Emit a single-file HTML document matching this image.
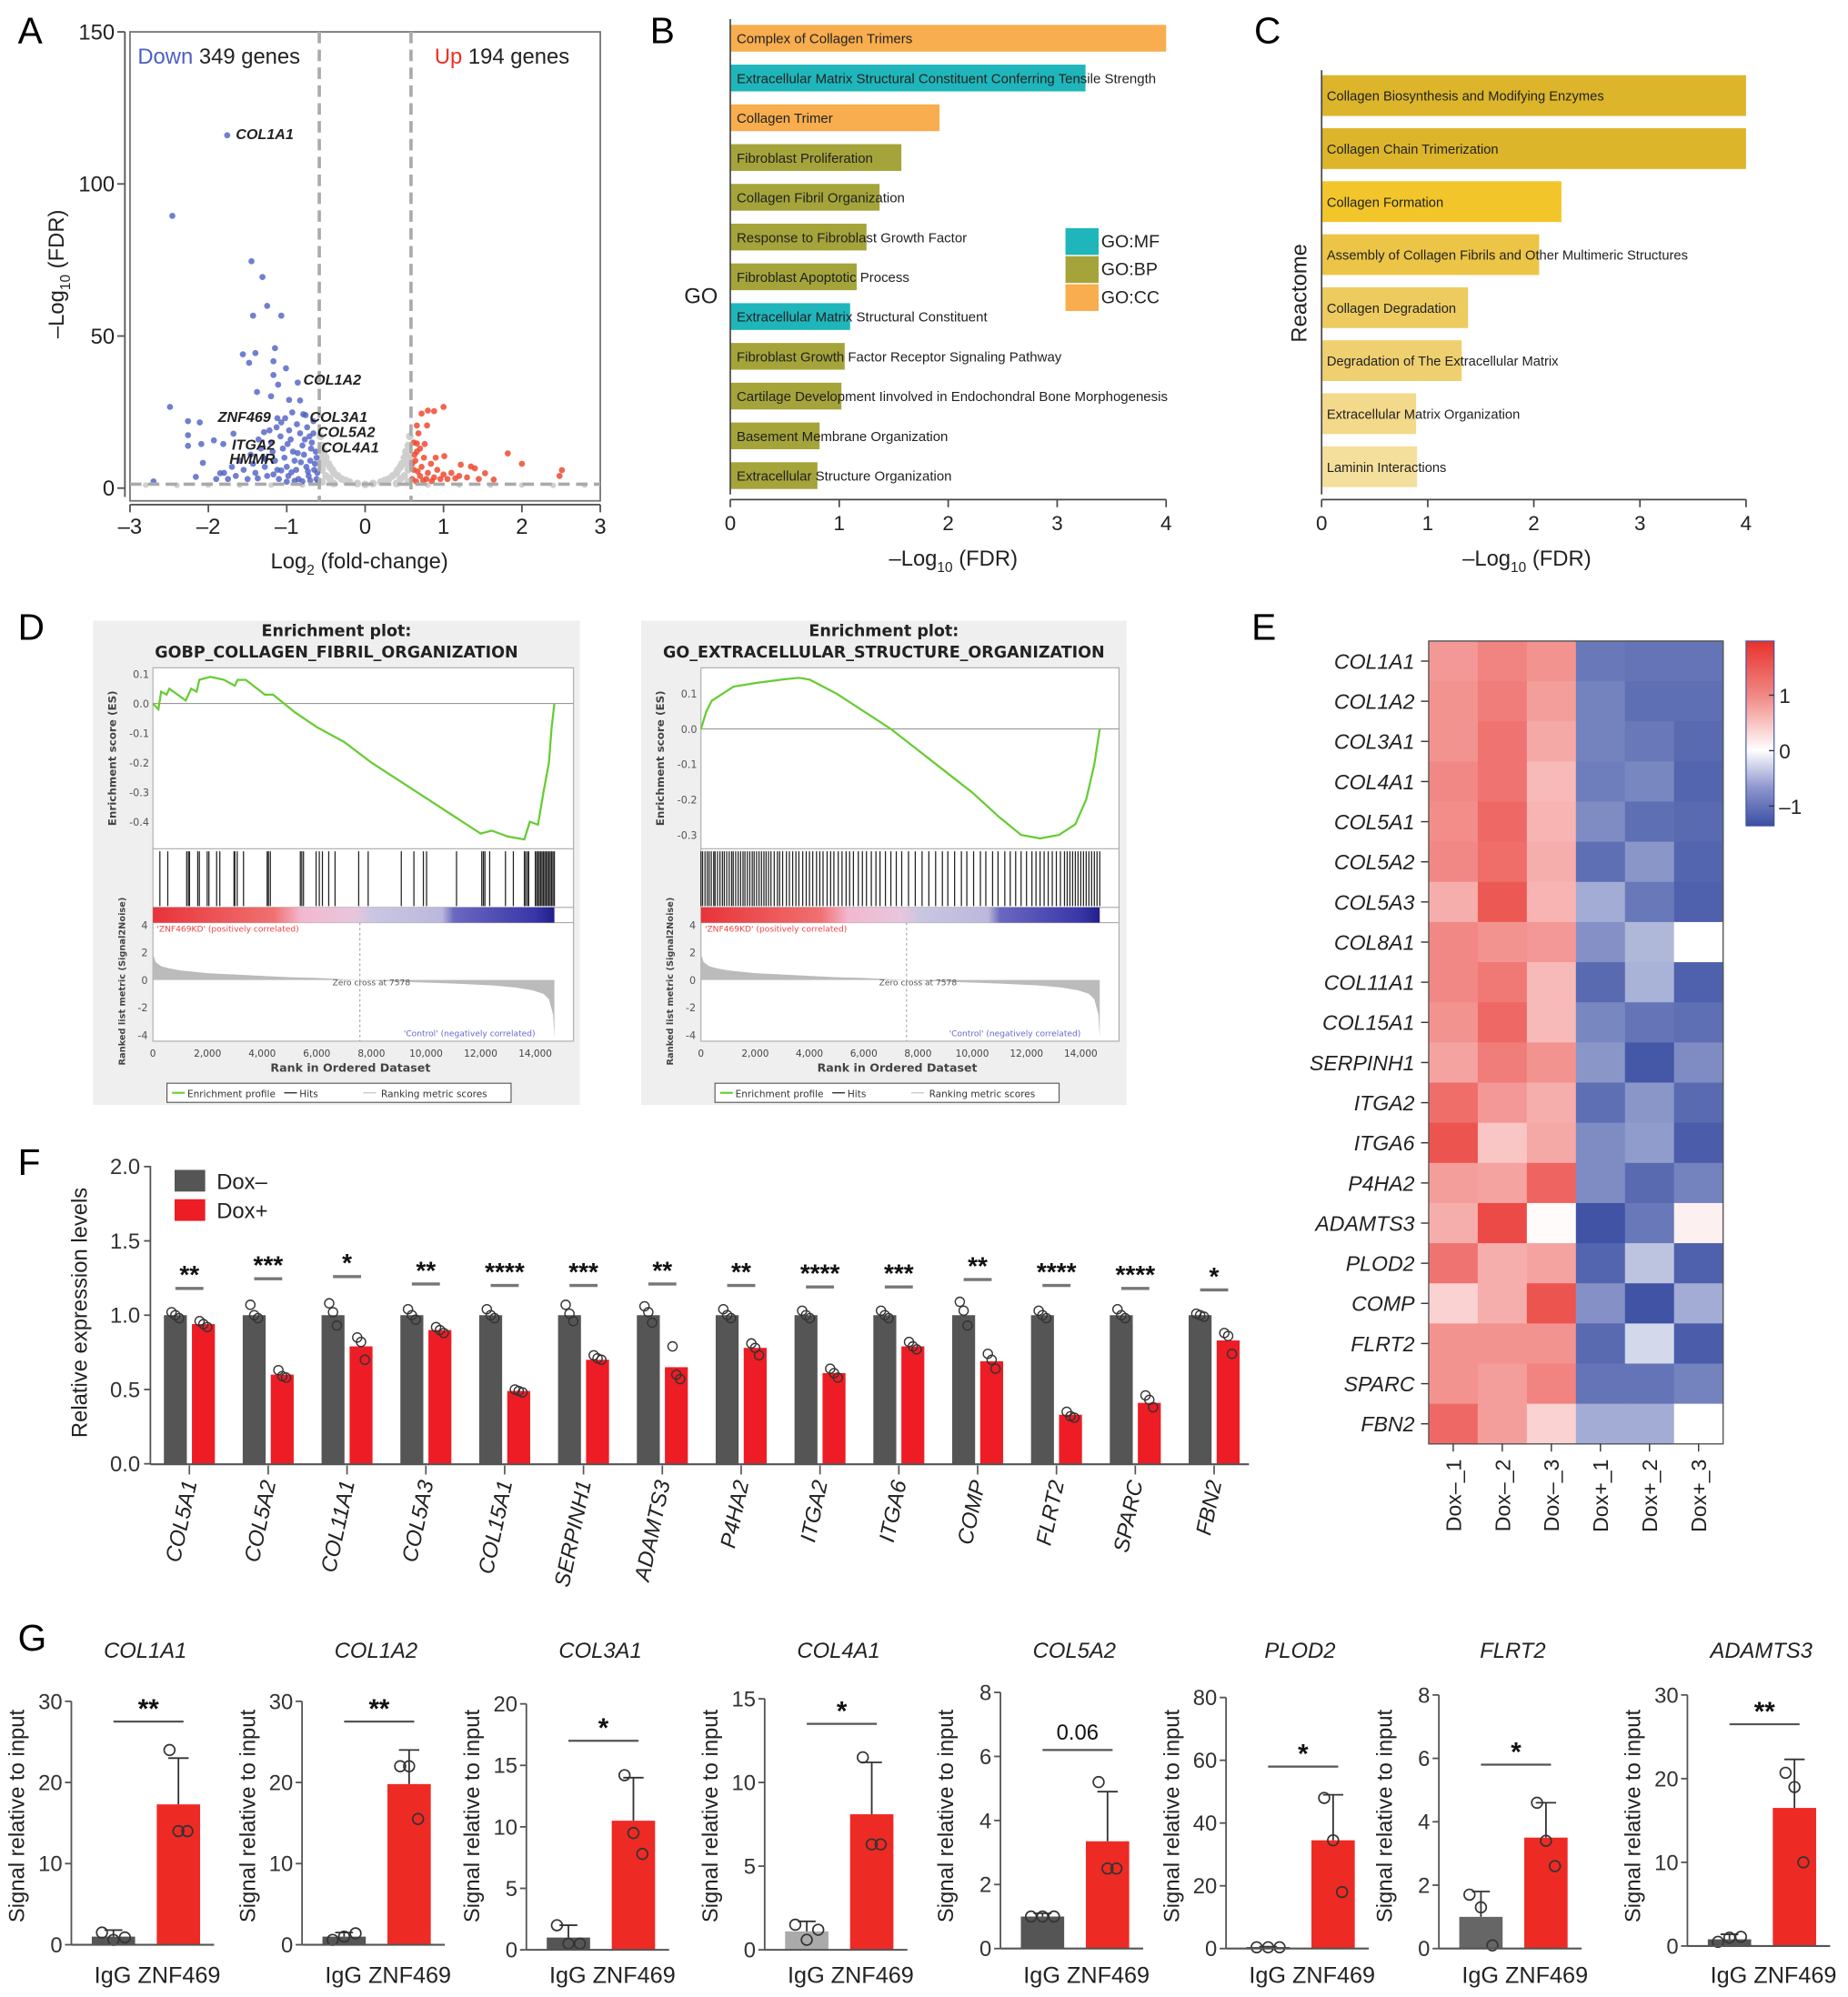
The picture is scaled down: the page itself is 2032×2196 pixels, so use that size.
<!DOCTYPE html>
<html><head><meta charset="utf-8"><style>
html,body{margin:0;padding:0;background:#fff}
svg{display:block;font-family:"Liberation Sans",Arial,sans-serif}
.gs{font-family:"DejaVu Sans","Liberation Sans",sans-serif}
</style></head><body>
<svg id="fig" xmlns="http://www.w3.org/2000/svg" width="2032" height="2196" viewBox="0 0 1450 1567">
<defs>
<linearGradient id="gseaBar" x1="0" x2="1" y1="0" y2="0">
<stop offset="0" stop-color="#e8333a"/><stop offset="0.3" stop-color="#f07070"/><stop offset="0.37" stop-color="#f2b8d0"/><stop offset="0.5" stop-color="#e8c6dc"/><stop offset="0.55" stop-color="#c9c6e2"/><stop offset="0.72" stop-color="#bcb8dd"/><stop offset="0.75" stop-color="#6a68c0"/><stop offset="0.95" stop-color="#3a36a8"/><stop offset="1" stop-color="#221f8a"/>
</linearGradient>
<linearGradient id="cbar" x1="0" x2="0" y1="0" y2="1">
<stop offset="0" stop-color="#e8312c"/><stop offset="0.3" stop-color="#f08a86"/><stop offset="0.59" stop-color="#ffffff"/><stop offset="0.8" stop-color="#8a93cc"/><stop offset="1" stop-color="#3b4fa3"/>
</linearGradient>
</defs>
<g font-size="29" fill="#000">
<text x="14" y="34">A</text>
<text x="510" y="34">B</text>
<text x="984" y="34">C</text>
<text x="14" y="502">D</text>
<text x="982" y="502">E</text>
<text x="14" y="922">F</text>
<text x="14" y="1295">G</text>
</g>
<g id="A"></g>
<g id="B"></g>
<g id="C"></g>
<g id="D" class="gs"></g>
<g id="E"></g>
<g id="F"></g>
<g id="G"></g>
</svg>
<script>
// ---------- DATA ----------
const volBlueOut=[[-1.76,116],[-2.46,89.5],[-1.45,74.6],[-1.31,69.4],[-1.25,59.9],[-1.43,56.7],[-1.07,56.7],[-1.15,46],[-1.56,44],[-1.40,44.4],[-1.48,41.2],[-1.17,41.7],[-1.01,39.4],[-1.17,37.2],[-1.11,34],[-0.86,34.7],[-1.38,31.6],[-1.2,30.2],[-0.97,29],[-0.83,28.8],[-2.49,26.7],[-0.93,24.9],[-0.79,24.3],[-2.26,22],[-2.11,21.6],[-1.07,21.6],[-1.12,23],[-2.26,17.4],[-1.68,17.9],[-1.29,18.4],[-1.93,15.7],[-2.26,13.9],[-2.09,14.5],[-1.81,14.5],[-2.07,8.3],[-1.85,4.9],[-2.16,3.7],[-2.70,2.2]];
const volBlue=[[-0.62,3],[-0.65,6],[-0.7,9],[-0.63,12],[-0.68,15],[-0.72,4],[-0.75,7],[-0.78,11],[-0.8,14],[-0.66,18],[-0.74,20],[-0.85,3],[-0.88,6],[-0.9,9],[-0.92,12],[-0.95,16],[-0.83,18],[-0.98,4],[-1.0,7],[-1.03,10],[-1.05,13],[-1.08,17],[-1.1,3],[-1.12,6],[-1.15,9],[-1.18,12],[-1.2,15],[-1.22,19],[-1.25,4],[-1.28,7],[-1.3,10],[-1.33,13],[-1.36,16],[-1.4,5],[-1.43,8],[-1.46,11],[-1.5,3],[-1.55,6],[-1.6,9],[-1.65,4],[-1.7,7],[-1.75,3],[-1.8,5],[-1.9,3],[-0.6,2],[-0.7,2.5],[-0.8,2.2],[-0.9,2.4],[-1.0,2.1],[-0.64,8],[-0.69,13],[-0.77,16],[-0.87,21],[-0.97,19],[-1.02,23],[-0.61,5],[-0.73,5.5],[-0.82,8.5],[-0.94,5.2],[-1.07,5.8],[-1.17,4.5],[-1.27,9.5],[-1.37,3.2],[-0.62,10],[-0.71,17],[-0.86,11.5],[-0.99,14.5],[-1.13,20],[-0.76,24],[-0.66,22]];
const volRed=[[1.0,26.7],[0.72,24.5],[0.8,25.5],[0.88,25.3],[0.66,20.6],[0.79,20.6],[0.66,14.7],[0.76,14.5],[1.01,10.5],[1.82,11.4],[2.0,8.0],[2.51,5.9],[2.48,4.0],[1.22,7.7],[1.35,7.1],[1.40,6.5],[1.53,4.9],[1.64,2.8],[0.6,3],[0.62,6],[0.64,9],[0.66,12],[0.62,15],[0.7,4],[0.72,7],[0.75,10],[0.78,3],[0.8,5],[0.84,8],[0.88,3.5],[0.92,6],[0.96,3],[1.0,4.5],[1.05,3],[1.1,5],[1.15,3.2],[1.2,4],[0.68,18],[0.65,2.2],[0.74,2.5],[0.85,2.3],[0.7,13],[0.9,10],[1.3,3.5],[1.45,3],[0.6,8],[0.63,11],[0.67,5.5]];
const volGrey=[[-0.57,17],[-0.55,14],[-0.52,12],[-0.5,10],[-0.47,8],[-0.45,7],[-0.42,6],[-0.4,5],[-0.35,4],[-0.3,3],[-0.25,2.5],[-0.2,2],[-0.1,1.5],[0,1.2],[0.1,1.5],[0.2,2],[0.25,2.5],[0.3,3],[0.35,4],[0.4,5],[0.42,6],[0.45,7],[0.47,8],[0.5,10],[0.52,12],[0.55,14],[0.57,17],[-0.55,6],[-0.5,4],[-0.45,3],[0.45,3],[0.5,4],[0.55,6],[-0.55,2],[0.55,2],[-0.4,1.5],[0.4,1.5],[-0.53,8],[0.53,8],[-0.56,10],[0.56,10]];
const volGreyBase=[[-2.8,1],[-2.4,0.9],[-2.0,1],[-1.6,1],[-1.2,1],[-0.8,1],[0.8,1],[1.2,1],[1.6,1],[2.0,1],[2.4,0.9],[2.8,1]];
const goTerms=["Complex of Collagen Trimers","Extracellular Matrix Structural Constituent Conferring Tensile Strength","Collagen Trimer","Fibroblast Proliferation","Collagen Fibril Organization","Response to Fibroblast Growth Factor","Fibroblast Apoptotic Process","Extracellular Matrix Structural Constituent","Fibroblast Growth Factor Receptor Signaling Pathway","Cartilage Development Iinvolved in Endochondral Bone Morphogenesis","Basement Membrane Organization","Extracellular Structure Organization"];
const goValues=[4.0,3.26,1.92,1.57,1.37,1.25,1.16,1.10,1.05,1.02,0.82,0.80];
const goTypes=["CC","MF","CC","BP","BP","BP","BP","MF","BP","BP","BP","BP"];
const reTerms=["Collagen Biosynthesis and Modifying Enzymes","Collagen Chain Trimerization","Collagen Formation","Assembly of Collagen Fibrils and Other Multimeric Structures","Collagen Degradation","Degradation of The Extracellular Matrix","Extracellular Matrix Organization","Laminin Interactions"];
const reValues=[4.0,4.0,2.26,2.05,1.38,1.32,0.89,0.90];
const axisTicks04=[0,1,2,3,4];
const esRanks1=[0,200,300,500,600,1200,1400,1600,1700,2100,2600,3000,3100,3400,4100,4400,5200,6000,7000,8000,9000,10000,11000,12000,12400,13000,13600,13800,14100,14300,14500,14600,14700];
const esVals1=[0,-0.02,0.04,0.03,0.05,0.01,0.05,0.04,0.08,0.09,0.08,0.06,0.08,0.08,0.03,0.03,-0.03,-0.08,-0.13,-0.2,-0.26,-0.32,-0.38,-0.44,-0.43,-0.45,-0.46,-0.4,-0.41,-0.3,-0.2,-0.08,0];
const hits1=[254,543,1236,1300,1340,1640,1700,1987,2050,2333,2449,2969,3000,3085,3316,4183,4230,4299,5397,5450,5513,5975,6091,6206,6437,6668,7534,7881,9094,9556,9903,10019,11116,12040,12100,12156,12330,12908,13197,13600,13650,13716,13760,14000,14050,14100,14150,14200,14250,14300,14350,14400,14450,14500,14550,14600,14650,14700];
const esRanks2=[0,200,400,800,1200,2000,3000,3600,4000,5000,6000,7000,8000,9000,10000,11000,11800,12500,13200,13800,14200,14500,14700];
const esVals2=[0,0.05,0.08,0.1,0.12,0.13,0.14,0.145,0.14,0.1,0.05,0,-0.06,-0.12,-0.18,-0.25,-0.3,-0.31,-0.3,-0.27,-0.2,-0.1,0];
const hits2=[0,60,150,230,300,380,470,520,610,700,790,860,950,1040,1130,1190,1280,1370,1460,1550,1620,1710,1800,1890,1960,2050,2140,2230,2320,2400,2490,2580,2700,2820,2900,3010,3150,3260,3380,3500,3610,3750,3880,4000,4120,4260,4380,4500,4650,4780,4900,5060,5200,5350,5480,5620,5800,5950,6100,6280,6450,6600,6800,7000,7200,7400,7650,7900,8150,8400,8650,8900,9100,9350,9600,9800,10050,10300,10500,10750,10950,11200,11400,11600,11800,12000,12200,12350,12500,12650,12800,12950,13100,13250,13400,13500,13600,13700,13800,13900,14000,14100,14200,14300,14400,14500,14600,14700];
const metricRanks=[0,100,300,600,1000,2000,3000,4000,5000,6000,7000,7578,8500,9500,10500,11500,12500,13300,13900,14300,14500,14650,14700];
const metricVals=[1.9,1.3,1.0,0.85,0.7,0.5,0.4,0.3,0.2,0.15,0.05,0,-0.08,-0.15,-0.22,-0.3,-0.4,-0.55,-0.75,-1.0,-1.4,-2.5,-4.2];
const rankTicks=[0,2000,4000,6000,8000,10000,12000,14000];
const hmGenes=["COL1A1","COL1A2","COL3A1","COL4A1","COL5A1","COL5A2","COL5A3","COL8A1","COL11A1","COL15A1","SERPINH1","ITGA2","ITGA6","P4HA2","ADAMTS3","PLOD2","COMP","FLRT2","SPARC","FBN2"];
const hmSamples=["Dox\u2013_1","Dox\u2013_2","Dox\u2013_3","Dox+_1","Dox+_2","Dox+_3"];
const hmValues=[[0.8,1.0,0.85,-1.05,-1.1,-1.1],[0.85,1.05,0.75,-0.95,-1.15,-1.15],[0.85,1.15,0.65,-0.95,-1.05,-1.2],[0.95,1.15,0.5,-1.0,-0.9,-1.25],[0.9,1.25,0.55,-0.85,-1.15,-1.2],[0.95,1.2,0.6,-1.15,-0.75,-1.25],[0.6,1.4,0.55,-0.55,-1.05,-1.3],[0.95,0.85,0.8,-0.8,-0.45,0.0],[0.95,1.1,0.5,-1.2,-0.5,-1.3],[0.85,1.25,0.5,-0.9,-1.1,-1.15],[0.7,1.05,0.85,-0.75,-1.4,-0.85],[1.2,0.8,0.6,-1.15,-0.75,-1.2],[1.45,0.4,0.65,-0.85,-0.7,-1.35],[0.75,0.7,1.3,-0.85,-1.2,-0.95],[0.6,1.55,0.02,-1.45,-1.05,0.08],[1.15,0.6,0.7,-1.25,-0.35,-1.3],[0.3,0.6,1.45,-0.8,-1.45,-0.55],[0.85,0.85,0.85,-1.2,-0.2,-1.35],[0.85,0.75,1.0,-1.1,-1.1,-0.95],[1.25,0.75,0.3,-0.55,-0.55,0.0]];
const cbTicks=[1,0,-1];
const fGenes=["COL5A1","COL5A2","COL11A1","COL5A3","COL15A1","SERPINH1","ADAMTS3","P4HA2","ITGA2","ITGA6","COMP","FLRT2","SPARC","FBN2"];
const fDoxMinus=[1,1,1,1,1,1,1,1,1,1,1,1,1,1];
const fDoxPlus=[0.94,0.60,0.79,0.90,0.49,0.70,0.65,0.78,0.61,0.79,0.69,0.33,0.41,0.83];
const fPtsMinus=[[1.02,1.0,0.98],[1.07,1.0,0.98],[1.08,1.02,0.93],[1.04,1.0,0.97],[1.04,1.0,0.98],[1.07,1.01,0.96],[1.06,1.02,0.95],[1.04,1.0,0.98],[1.03,1.0,0.98],[1.03,1.0,0.98],[1.09,1.03,0.93],[1.03,1.0,0.98],[1.04,1.0,0.98],[1.01,1.0,0.99]];
const fPtsPlus=[[0.96,0.94,0.92],[0.63,0.59,0.58],[0.85,0.82,0.70],[0.92,0.90,0.88],[0.50,0.49,0.48],[0.73,0.71,0.70],[0.79,0.60,0.57],[0.81,0.78,0.73],[0.64,0.61,0.58],[0.82,0.79,0.77],[0.74,0.70,0.64],[0.35,0.32,0.31],[0.46,0.43,0.38],[0.88,0.86,0.74]];
const fSig=["**","***","*","**","****","***","**","**","****","***","**","****","****","*"];
const fSigY=[1.18,1.245,1.26,1.21,1.20,1.20,1.21,1.20,1.19,1.19,1.24,1.20,1.18,1.17];
const fTicks=[0,0.5,1.0,1.5,2.0];
const gGenes=["COL1A1","COL1A2","COL3A1","COL4A1","COL5A2","PLOD2","FLRT2","ADAMTS3"];
const gMax=[30,30,20,15,8,80,8,30];
const gStep=[10,10,5,5,2,20,2,10];
const gIgG=[1.0,1.0,1.0,1.1,1.0,0.5,1.0,0.8];
const gZnf=[17.3,19.8,10.5,8.1,3.35,34.5,3.5,16.5];
const gIgGErr=[1.8,1.5,2.0,1.7,1.1,0.6,1.8,1.4];
const gZnfErr=[23,24,14,11.2,4.9,49,4.6,22.3];
const gIgGPts=[[1.5,0.6,0.9],[0.6,1.0,1.4],[2.0,0.5,0.5],[1.5,0.6,1.2],[1,1,1],[0.4,0.4,0.4],[1.7,1.3,0.1],[0.5,1.0,1.1]];
const gZnfPts=[[24,14,14],[22,22,15.5],[14.2,9.5,7.8],[11.5,6.3,6.3],[5.2,2.5,2.5],[48,34.5,18],[4.6,3.4,2.6],[20.7,19,10]];
const gSig=["**","**","*","*","0.06","*","*","**"];
const gSigVal=[27.5,27.5,17,13.5,6.2,58,5.8,26.5];

// ---------- HELPERS ----------
const NS="http://www.w3.org/2000/svg";
function el(tag,attrs,parent,text){const e=document.createElementNS(NS,tag);for(const k in attrs)e.setAttribute(k,attrs[k]);if(text!==undefined)e.textContent=text;parent.appendChild(e);return e;}
function ln(p,x1,y1,x2,y2,st,w,extra){const a={x1:x1,y1:y1,x2:x2,y2:y2,stroke:st,'stroke-width':w};if(extra)Object.assign(a,extra);return el('line',a,p);}

// ---------- A: VOLCANO ----------
(function(){
const g=document.getElementById('A');
const xA=v=>102+(v+3)/6*369, yA=v=>383-v/150*358;
const fr=el('rect',{x:102,y:25,width:369,height:368,fill:'none',stroke:'#777','stroke-width':1.3},g);

volGrey.forEach(p=>{const c=el('circle',{cx:xA(p[0]),cy:yA(p[1]),r:3,fill:'#cfcfcf'},g);
});
volGreyBase.forEach(p=>{const c=el('circle',{cx:xA(p[0]),cy:yA(p[1]),r:2.2,fill:'#d0d0d0'},g);
});
volBlue.concat(volBlueOut).forEach(p=>{const c=el('circle',{cx:xA(p[0]),cy:yA(p[1]),r:2.4,fill:'#4d5fc4','fill-opacity':0.8},g);
});
volRed.forEach(p=>{const c=el('circle',{cx:xA(p[0]),cy:yA(p[1]),r:2.4,fill:'#ee4a30','fill-opacity':0.85},g);
});
const d1=ln(g,xA(-0.585),25,xA(-0.585),393,'#aaa',2.6,{'stroke-dasharray':'9,5'});

const d2=ln(g,xA(0.585),25,xA(0.585),393,'#aaa',2.6,{'stroke-dasharray':'9,5'});

const d3=ln(g,102,yA(1.3),471,yA(1.3),'#aaa',2.6,{'stroke-dasharray':'9,5'});

const labs=[["COL1A1",185,109],["COL1A2",238,302],["ZNF469",171,331],["COL3A1",243,331],["COL5A2",249,343],["COL4A1",252,355],["ITGA2",182,353],["HMMR",180,364]];
labs.forEach(l=>{const t=el('text',{x:l[1],y:l[2],'font-size':11.5,'font-weight':'bold','font-style':'italic',fill:'#222'},g,l[0]);
});
const xa=ln(g,102,396,471,396,'#555',1.3);
[-3,-2,-1,0,1,2,3].forEach(v=>{const tk=ln(g,xA(v),396,xA(v),402,'#555',1.3);
const t=el('text',{x:xA(v),y:419,'font-size':17,'text-anchor':'middle',fill:'#222'},g,v<0?'\u2013'+(-v):''+v);});
const ya=ln(g,98,25,98,390,'#555',1.3);
[0,50,100,150].forEach(v=>{const tk=ln(g,92,yA(v),98,yA(v),'#555',1.3);
const t=el('text',{x:90,y:yA(v)+6,'font-size':17,'text-anchor':'end',fill:'#222'},g,''+v);});
const xt=el('text',{x:282,y:446,'font-size':17,'text-anchor':'middle',fill:'#222'},g);
xt.innerHTML='Log<tspan font-size="11" dy="5">2</tspan><tspan dy="-5"> (fold-change)</tspan>';
const yt=el('text',{transform:'translate(50,215) rotate(-90)','font-size':17,'text-anchor':'middle',fill:'#222'},g);
yt.innerHTML='\u2013Log<tspan font-size="11" dy="5">10</tspan><tspan dy="-5"> (FDR)</tspan>';
const dn=el('text',{x:108,y:50,'font-size':17,fill:'#222'},g);
dn.innerHTML='<tspan fill="#4d5fc4">Down</tspan> 349 genes';
const up=el('text',{x:341,y:50,'font-size':17,fill:'#222'},g);
up.innerHTML='<tspan fill="#ee3024">Up</tspan> 194 genes';
})();

// ---------- B: GO ----------
(function(){
const g=document.getElementById('B');
const xB=v=>573+v/4*342; const col={CC:'#f8ad4e',MF:'#1fb6bb',BP:'#a5a43a'};
goTerms.forEach((t,i)=>{const cy=30+i*31.2;
const r=el('rect',{x:xB(0),y:cy-10.5,width:xB(goValues[i])-xB(0),height:21,fill:col[goTypes[i]]},g);

const tx=el('text',{x:578,y:cy+4,'font-size':10.7,fill:'#222'},g,t);});
const ya=ln(g,573,15,573,388,'#444',1.2);
const xa=ln(g,573,392,915,392,'#444',1.2);
axisTicks04.forEach(v=>{const tk=ln(g,xB(v),392,xB(v),398,'#444',1.2);
const t=el('text',{x:xB(v),y:416,'font-size':16,'text-anchor':'middle',fill:'#222'},g,''+v);});
const xt=el('text',{x:748,y:444,'font-size':17,'text-anchor':'middle',fill:'#222'},g);
xt.innerHTML='\u2013Log<tspan font-size="11" dy="5">10</tspan><tspan dy="-5"> (FDR)</tspan>';
const yt=el('text',{x:550,y:238,'font-size':17,'text-anchor':'middle',fill:'#222'},g,'GO');
[['GO:MF','MF'],['GO:BP','BP'],['GO:CC','CC']].forEach((l,i)=>{const s=el('rect',{x:836,y:179+i*22,width:26,height:21,fill:col[l[1]]},g);
const t=el('text',{x:864,y:194+i*22,'font-size':14,fill:'#222'},g,l[0]);});
})();

// ---------- C: REACTOME ----------
(function(){
const g=document.getElementById('C');
const xC=v=>1037+v/4*333; const cols=['#dcb52a','#dcb52a','#f2c62a','#ecc547','#edcb5e','#efd070','#f3d98a','#f5df9c'];
reTerms.forEach((t,i)=>{const cy=75+i*41.6;
const r=el('rect',{x:xC(0),y:cy-16,width:xC(reValues[i])-xC(0),height:32,fill:cols[i]},g);
const tx=el('text',{x:1041,y:cy+4,'font-size':10.5,fill:'#222'},g,t);});
const ya=ln(g,1037,55,1037,388,'#444',1.2);
const xa=ln(g,1037,392,1370,392,'#444',1.2);
axisTicks04.forEach(v=>{const tk=ln(g,xC(v),392,xC(v),398,'#444',1.2);
const t=el('text',{x:xC(v),y:416,'font-size':16,'text-anchor':'middle',fill:'#222'},g,''+v);});
const xt=el('text',{x:1198,y:444,'font-size':17,'text-anchor':'middle',fill:'#222'},g);
xt.innerHTML='\u2013Log<tspan font-size="11" dy="5">10</tspan><tspan dy="-5"> (FDR)</tspan>';
const yt=el('text',{transform:'translate(1025,230) rotate(-90)','font-size':17,'text-anchor':'middle',fill:'#222'},g,'Reactome');
})();

// ---------- D: GSEA ----------
function gsea(o){
const g=document.getElementById('D');
const xR=r=>o.fl+r/14000*(o.x14-o.fl); const yE=v=>o.e0-v*o.ep; const yM=v=>769-v*10.8;
const bg=el('rect',{x:o.bx,y:487,width:o.bw,height:380,fill:'#efefef'},g);
const fr=el('rect',{x:o.fl,y:524,width:o.fr-o.fl,height:293,fill:'#fff',stroke:'#aaa','stroke-width':0.8},g);
const t1=el('text',{x:o.bx+o.bw/2,y:499,'font-size':12.5,'font-weight':'bold','text-anchor':'middle',fill:'#222'},g,'Enrichment plot:');
const t2=el('text',{x:o.bx+o.bw/2,y:516,'font-size':12.5,'font-weight':'bold','text-anchor':'middle',fill:'#222'},g,o.title);
[666,712,724].forEach(y=>{const s=ln(g,o.fl,y,o.fr,y,'#aaa',0.8);});
const z=ln(g,o.fl,yE(0),o.fr,yE(0),'#999',0.8);
o.ticks.forEach(v=>{const t=el('text',{x:o.fl-3,y:yE(v)+3,'font-size':8,'text-anchor':'end',fill:'#555'},g,v.toFixed(1));});
const pts=o.er.map((r,i)=>xR(r)+','+yE(o.ev[i])).join(' ');
const pl=el('polyline',{points:pts,fill:'none',stroke:'#66cc33','stroke-width':1.6},g);
o.hits.forEach(r=>{const h=ln(g,xR(r),668,xR(r),711,'#222',0.9);});
const cb=el('rect',{x:o.fl,y:712,width:xR(14700)-o.fl,height:12,fill:'url(#gseaBar)'},g);
const mp='M'+xR(0)+','+yM(0)+' '+metricRanks.map((r,i)=>'L'+xR(r)+','+yM(metricVals[i])).join(' ')+' L'+xR(14700)+','+yM(0)+'Z';
const m=el('path',{d:mp,fill:'#bbb'},g);
const zc=ln(g,xR(7578),724,xR(7578),817,'#999',0.7,{'stroke-dasharray':'2,2'});
const zt=el('text',{x:xR(8000),y:773,'font-size':6.5,'text-anchor':'middle',fill:'#555'},g,'Zero cross at 7578');
const pc=el('text',{x:o.fl+3,y:731,'font-size':6.5,fill:'#e44'},g,"'ZNF469KD' (positively correlated)");
const nc=el('text',{x:xR(14000),y:813,'font-size':6.5,'text-anchor':'end',fill:'#66c'},g,"'Control' (negatively correlated)");
[4,2,0,-2,-4].forEach(v=>{const t=el('text',{x:o.fl-4,y:yM(v)+3,'font-size':8,'text-anchor':'end',fill:'#555'},g,''+v);});
rankTicks.forEach(r=>{const t=el('text',{x:xR(r),y:829,'font-size':7.5,'text-anchor':'middle',fill:'#444'},g,r.toLocaleString('en-US'));});
const xt=el('text',{x:(o.fl+o.fr)/2-10,y:841,'font-size':9,'font-weight':'bold','text-anchor':'middle',fill:'#444'},g,'Rank in Ordered Dataset');
const y1=el('text',{transform:'translate('+(o.fl-29)+',595) rotate(-90)','font-size':8.5,'font-weight':'bold','text-anchor':'middle',fill:'#444'},g,'Enrichment score (ES)');
const y2=el('text',{transform:'translate('+(o.fl-22)+',770) rotate(-90)','font-size':7,'font-weight':'bold','text-anchor':'middle',fill:'#444'},g,'Ranked list metric (Signal2Noise)');
const lb=el('rect',{x:o.fl+11,y:850,width:270,height:15,fill:'#fff',stroke:'#555','stroke-width':0.8},g);
const l1=ln(g,o.fl+15,857.5,o.fl+25,857.5,'#66cc33',1.5);
const a=el('text',{x:o.fl+27,y:861,'font-size':7.5,fill:'#333'},g,'Enrichment profile');
const l2=ln(g,o.fl+103,857.5,o.fl+113,857.5,'#333',1);
const b=el('text',{x:o.fl+115,y:861,'font-size':7.5,fill:'#333'},g,'Hits');
const l3=ln(g,o.fl+165,857.5,o.fl+175,857.5,'#ccc',1);
const c=el('text',{x:o.fl+179,y:861,'font-size':7.5,fill:'#333'},g,'Ranking metric scores');
}
gsea({bx:73,bw:382,fl:120,fr:450,x14:420,e0:552,ep:232,ticks:[0.1,0,-0.1,-0.2,-0.3,-0.4],er:esRanks1,ev:esVals1,hits:hits1,title:'GOBP_COLLAGEN_FIBRIL_ORGANIZATION'});
gsea({bx:503,bw:381,fl:550,fr:878,x14:848,e0:572,ep:277,ticks:[0.1,0,-0.1,-0.2,-0.3],er:esRanks2,ev:esVals2,hits:hits2,title:'GO_EXTRACELLULAR_STRUCTURE_ORGANIZATION'});

// ---------- E: HEATMAP ----------
(function(){
const g=document.getElementById('E');
const x0=1121,y0=503,cw=(1352-1121)/6,rh=(1133-503)/20;
function color(v){if(v>=0){const t=Math.pow(Math.min(v/1.8,1),0.85);return 'rgb('+Math.round(255-23*t)+','+Math.round(255-205*t)+','+Math.round(255-210*t)+')';}
const t=Math.pow(Math.min(-v/1.5,1),0.75);return 'rgb('+Math.round(255-196*t)+','+Math.round(255-176*t)+','+Math.round(255-92*t)+')';}
hmValues.forEach((row,i)=>{row.forEach((v,j)=>{const r=el('rect',{x:x0+j*cw,y:y0+i*rh,width:cw+0.5,height:rh+0.5,fill:color(v)},g);
});
const tk=ln(g,x0-6,y0+(i+0.5)*rh,x0,y0+(i+0.5)*rh,'#333',1);
const t=el('text',{x:x0-11,y:y0+(i+0.5)*rh+6,'font-size':16.5,'font-style':'italic','text-anchor':'end',fill:'#222'},g,hmGenes[i]);});
const fr=el('rect',{x:x0,y:y0,width:6*cw,height:20*rh,fill:'none',stroke:'#555','stroke-width':1},g);
hmSamples.forEach((s,j)=>{const cx=x0+(j+0.5)*cw;const tk=ln(g,cx,1133,cx,1139,'#333',1);
const t=el('text',{transform:'translate('+(cx+6)+',1145) rotate(-90)','font-size':16.5,'text-anchor':'end',fill:'#222'},g,s);});
const cb=el('rect',{x:1370,y:503,width:22,height:145,fill:'url(#cbar)',stroke:'#3b4fa3','stroke-width':0.8},g);
cbTicks.forEach(v=>{const y=589-v*43.5;const tk=ln(g,1388,y,1392,y,'#333',1);
const t=el('text',{x:1396,y:y+6,'font-size':16,fill:'#222'},g,v<0?'\u2013'+(-v):''+v);});
})();

// ---------- F: QPCR ----------
(function(){
const g=document.getElementById('F');
const yF=v=>1148.6-v*116.6; const xF=i=>148.6+i*61.85;
const ya=ln(g,118,915,118,1149,'#555',1.3);
fTicks.forEach(v=>{const tk=ln(g,113,yF(v),118,yF(v),'#555',1.3);
const t=el('text',{x:110,y:yF(v)+6,'font-size':17,'text-anchor':'end',fill:'#333'},g,v.toFixed(1));});
const yt=el('text',{transform:'translate(68,1030) rotate(-90)','font-size':17,'text-anchor':'middle',fill:'#222'},g,'Relative expression levels');
fGenes.forEach((gn,i)=>{const c=xF(i);
const b1=el('rect',{x:c-20,y:yF(fDoxMinus[i]),width:18,height:yF(0)-yF(fDoxMinus[i]),fill:'#555'},g);
const b2=el('rect',{x:c+2,y:yF(fDoxPlus[i]),width:18,height:yF(0)-yF(fDoxPlus[i]),fill:'#ee1c24'},g);
fPtsMinus[i].forEach((v,k)=>{const p=el('circle',{cx:c-11+(k-1)*3,cy:yF(v),r:3.6,fill:'none',stroke:'#333','stroke-width':1},g);});
fPtsPlus[i].forEach((v,k)=>{const p=el('circle',{cx:c+11+(k-1)*3,cy:yF(v),r:3.6,fill:'none',stroke:'#333','stroke-width':1},g);});
const sl=ln(g,c-11,yF(fSigY[i]),c+11,yF(fSigY[i]),'#777',2.4);
const st=el('text',{x:c,y:yF(fSigY[i])-4,'font-size':20,'font-weight':'bold','text-anchor':'middle',fill:'#111'},g,fSig[i]);
const tk=ln(g,c,1150,c,1157,'#555',1.2);
const tl=el('text',{transform:'translate('+(c+6)+',1163) rotate(-78)','font-size':17,'font-style':'italic','text-anchor':'end',fill:'#222'},g,gn);});
const xa=ln(g,118,1149,980,1149,'#555',1.5);
const s1=el('rect',{x:137,y:918,width:24,height:17,fill:'#555'},g);
const l1=el('text',{x:170,y:933,'font-size':17,fill:'#222'},g,'Dox\u2013');
const s2=el('rect',{x:137,y:941,width:24,height:17,fill:'#ee1c24'},g);
const l2=el('text',{x:170,y:956,'font-size':17,fill:'#222'},g,'Dox+');
})();

// ---------- G: CHIP ----------
(function(){
const g=document.getElementById('G');
const ax=[56,237,413,600,785,962,1129,1324];
const tops=[1335,1335,1337,1333,1328,1332,1330,1330];
const zeros=[1526,1526,1530,1530,1529,1529,1529,1527];
const igCol=['#555','#555','#555','#aaa','#555','#555','#666','#555'];
gGenes.forEach((gn,i)=>{const a=ax[i];const yG=v=>zeros[i]-v/gMax[i]*(zeros[i]-tops[i]);
const ti=el('text',{x:a+58,y:1301,'font-size':17,'font-style':'italic','text-anchor':'middle',fill:'#222'},g,gn);
const ya=ln(g,a,tops[i],a,zeros[i],'#555',1.3);
for(let v=0;v<=gMax[i];v+=gStep[i]){const tk=ln(g,a-5,yG(v),a,yG(v),'#555',1.3);
const t=el('text',{x:a-7,y:yG(v)+6,'font-size':17,'text-anchor':'end',fill:'#333'},g,''+v);}
const yt=el('text',{transform:'translate('+(a-37)+',1425) rotate(-90)','font-size':17,'text-anchor':'middle',fill:'#222'},g,'Signal relative to input');
const c1=a+33,c2=a+84;
const e1=ln(g,c1,yG(gIgGErr[i]),c1,yG(gIgG[i]),'#333',1.3);
const e1c=ln(g,c1-7,yG(gIgGErr[i]),c1+7,yG(gIgGErr[i]),'#333',1.3);
const e2=ln(g,c2,yG(gZnfErr[i]),c2,yG(gZnf[i]),'#333',1.3);
const e2c=ln(g,c2-8,yG(gZnfErr[i]),c2+8,yG(gZnfErr[i]),'#333',1.3);
const b1=el('rect',{x:c1-17,y:yG(gIgG[i]),width:34,height:yG(0)-yG(gIgG[i]),fill:igCol[i]},g);
const b2=el('rect',{x:c2-17,y:yG(gZnf[i]),width:34,height:yG(0)-yG(gZnf[i]),fill:'#ee2a24'},g);
gIgGPts[i].forEach((v,k)=>{const p=el('circle',{cx:c1+(k-1)*9,cy:yG(v),r:4.2,fill:'none',stroke:'#333','stroke-width':1.2},g);});
gZnfPts[i].forEach((v,k)=>{const p=el('circle',{cx:c2+(k-1)*7,cy:yG(v),r:4.2,fill:'none',stroke:'#333','stroke-width':1.2},g);});
const xa=ln(g,a,zeros[i],a+112,zeros[i],'#555',1.5);
const sl=ln(g,c1,yG(gSigVal[i]),c2+4,yG(gSigVal[i]),'#555',1.6);
const isNum=gSig[i].indexOf('*')<0;
const st=el('text',{x:(c1+c2)/2+2,y:yG(gSigVal[i])-(isNum?8:3),'font-size':isNum?17:21,'font-weight':isNum?'normal':'bold','text-anchor':'middle',fill:'#111'},g,gSig[i]);
const lx=el('text',{x:a+18,y:1556,'font-size':18,fill:'#222'},g,'IgG');
const lz=el('text',{x:a+52,y:1556,'font-size':18,fill:'#222'},g,'ZNF469');
});
})();
</script>
</body></html>
